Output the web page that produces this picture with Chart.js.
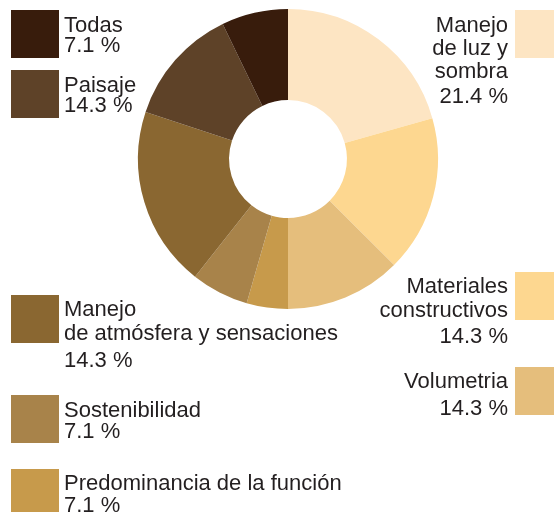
<!DOCTYPE html>
<html>
<head>
<meta charset="utf-8">
<script src="https://cdn.jsdelivr.net/npm/chart.js@4"></script>
<style>
  html, body { margin: 0; padding: 0; background: #fff; }
  #wrap { position: relative; width: 554px; height: 512px; }
</style>
</head>
<body>
<div id="wrap"><canvas id="pie" width="554" height="512"></canvas></div>
<script>
// slices clockwise from 12 o'clock
const categories = [
  "Manejo\nde luz y\nsombra",
  "Materiales\nconstructivos",
  "Volumetria",
  "Predominancia de la función",
  "Sostenibilidad",
  "Manejo\nde atmósfera y sensaciones",
  "Paisaje",
  "Todas",
];
// slice sizes as drawn (degrees of the ring)
const sliceValues = [74.2, 60.8, 45.0, 16.0, 22.3, 70.0, 45.9, 25.8];
// percentages printed in the legend
const percentLabels = ["21.4 %", "14.3 %", "14.3 %", "7.1 %", "7.1 %", "14.3 %", "14.3 %", "7.1 %"];
const colors = ["#fde5c3", "#fdd790", "#e5be7c", "#c79a4b", "#a8834a", "#8a6731", "#5e4228", "#381c0c"];

// legend placement, one entry per category (square top, side, text baselines)
const legendLayout = [
  { side: "right", y: 10, lines: [32, 55, 78, 103] },
  { side: "right", y: 272, lines: [293, 317, 343] },
  { side: "right", y: 367, lines: [388, 415] },
  { side: "left", y: 469, lines: [490, 512] },
  { side: "left", y: 395, lines: [417, 438] },
  { side: "left", y: 295, lines: [316, 340, 367] },
  { side: "left", y: 70, lines: [92, 112] },
  { side: "left", y: 10, lines: [32, 52] },
];

const legendPlugin = {
  id: "sideLegend",
  afterDraw(chart) {
    const ctx = chart.ctx;
    ctx.save();
    ctx.font = '22px "Liberation Sans", Arial, sans-serif';
    ctx.textBaseline = "alphabetic";
    categories.forEach((name, i) => {
      const lay = legendLayout[i];
      const lines = [...name.split("\n"), percentLabels[i]];
      ctx.fillStyle = colors[i];
      if (lay.side === "left") {
        ctx.fillRect(11, lay.y, 48, 48);
        ctx.textAlign = "left";
      } else {
        ctx.fillRect(515, lay.y, 48, 48);
        ctx.textAlign = "right";
      }
      ctx.fillStyle = "#231f20";
      const tx = lay.side === "left" ? 64 : 508;
      lines.forEach((t, k) => ctx.fillText(t, tx, lay.lines[k]));
    });
    ctx.restore();
  },
};

new Chart(document.getElementById("pie"), {
  type: "doughnut",
  data: {
    labels: categories.map((c) => c.replace(/\n/g, " ")),
    datasets: [{
      data: sliceValues,
      backgroundColor: colors,
      borderWidth: 0,
      hoverOffset: 0,
    }],
  },
  options: {
    responsive: false,
    animation: false,
    cutout: "39.3%",
    layout: { padding: { left: 138, right: 116, top: 9, bottom: 203 } },
    plugins: { legend: { display: false }, tooltip: { enabled: false } },
  },
  plugins: [legendPlugin],
});
</script>
</body>
</html>
